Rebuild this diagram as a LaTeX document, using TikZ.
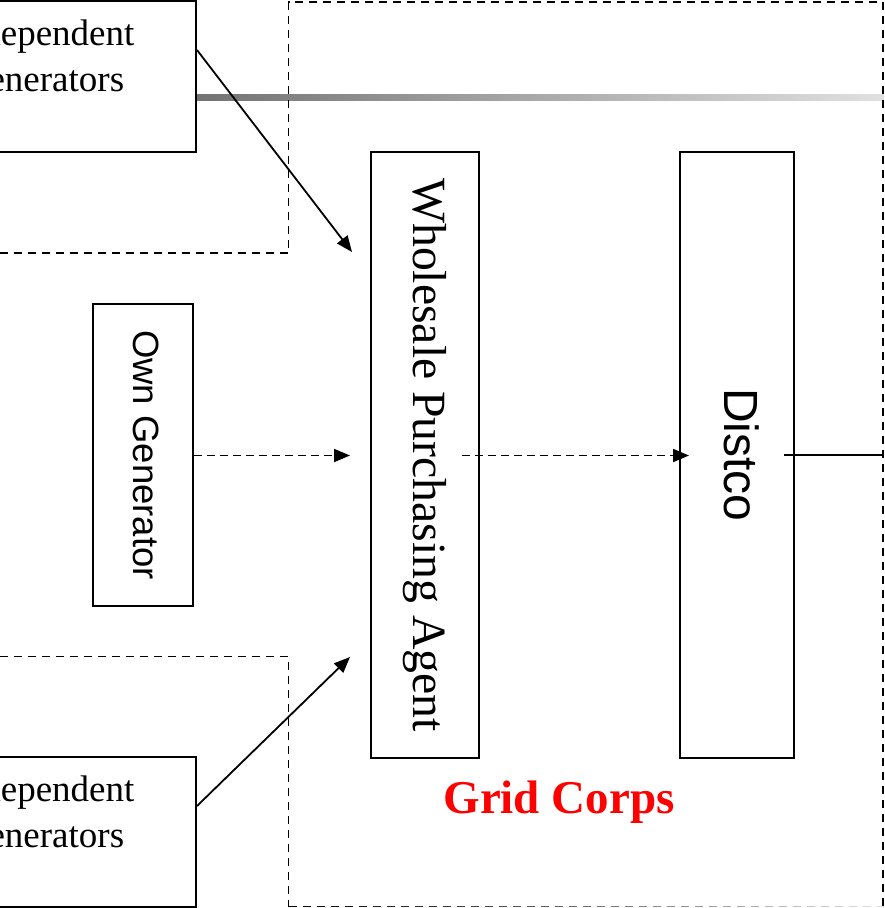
\documentclass[tikz,border=0pt]{standalone}
\usepackage{fontspec}
\setmainfont{Liberation Serif}
\setsansfont{Liberation Sans}
\usetikzlibrary{arrows.meta,calc}
\begin{document}
\begin{tikzpicture}[x=1pt,y=-1pt,
  box/.style={draw, line width=2pt, inner sep=0pt},
  arr/.style={line width=1.8pt, -{Triangle[length=16pt,width=13pt]}},
  dashline/.style={line width=1.8pt, dash pattern=on 8pt off 6pt},
  dasharr/.style={arr, dash pattern=on 8pt off 5pt},
  serifbig/.style={font=\fontsize{37}{46}\selectfont, align=center},
]
\useasboundingbox (0,0) rectangle (884,908);
\clip (0,0) rectangle (884,908);

% gradient bar
\shade[left color=black!55, right color=black!12] (196,94) rectangle (884,100);

% dashed regions
\draw[dashline] (0,253) -- (288.5,253) -- (288.5,2) -- (882.7,2) -- (882.7,908);
\draw[dashline] (0,656.5) -- (288.5,656.5) -- (288.5,906.5);
\foreach \i in {0,...,42} {
  \pgfmathsetmacro{\shadev}{100-88*\i/42}
  \draw[line width=1.8pt, color=black!\shadev] ({288.5+14*\i},906.5) -- ({288.5+14*\i+8},906.5);
}

% boxes
\node[box, minimum width=306pt, minimum height=151pt] (ind1) at (43,76.5) {};
\node[serifbig] (ind1t) at (43,56) {Independent\\Generators};
\node[box, minimum width=306pt, minimum height=150pt] (ind2) at (43,832) {};
\node[serifbig] (ind2t) at (43,812) {Independent\\Generators};

\node[box, minimum width=100pt, minimum height=302pt, font=\sffamily\fontsize{36.5}{44}\selectfont] (own) at (143,455) {\hspace*{6pt}\rotatebox{-90}{Own Generator}};
\node[box, minimum width=108pt, minimum height=606pt, font=\fontsize{47.7}{57}\selectfont] (wpa) at (425,455) {\rotatebox{-90}{Wholesale Purchasing Agent}};
\node[box, minimum width=114pt, minimum height=606pt, font=\sffamily\fontsize{48}{57}\selectfont] (dis) at (737,455) {\hspace*{10pt}\rotatebox{-90}{Distco}};

\node[text=red, font=\bfseries\fontsize{47}{56}\selectfont] (gc) at (559,802) {Grid Corps};

% connectors
\coordinate (t1) at (352,252);
\coordinate (t2) at (350,657);
\coordinate (t3) at (350,455.5);
\coordinate (t5) at (882.7,455);
\draw[arr] ($(ind1.east)+(0,-26.5)$) -- (t1);
\draw[arr] ($(ind2.east)+(0,-26)$) -- (t2);
\draw[dasharr] (own.east |- t3) -- (t3);
\draw[dasharr] ($(wpa.east)+(-18,0.5)$) -- ($(dis.west)+(10,0.5)$);
\draw[line width=1.8pt] ($(dis.east)+(-11,0)$) -- (t5);
\end{tikzpicture}
\end{document}
